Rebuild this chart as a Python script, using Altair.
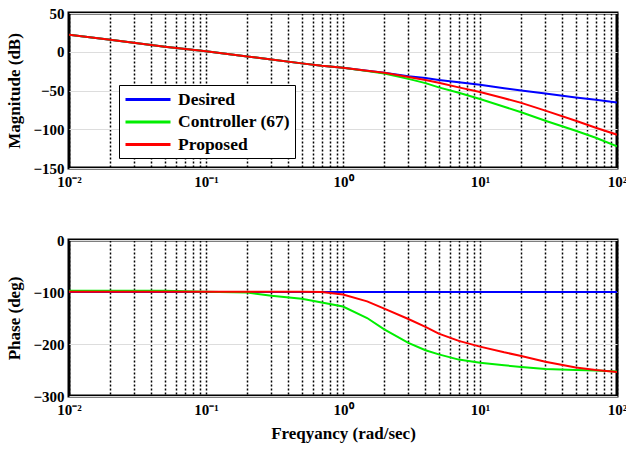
import altair as alt
import pandas as pd

freq = [0.01, 0.02, 0.05, 0.1, 0.2, 0.3, 0.5, 0.7, 1, 1.5, 2, 3, 4, 5, 7, 10, 15, 20, 30, 50, 70, 100]

mag_desired = [22, 15.5, 6.5, 0.5, -6, -10, -15, -18, -20.5, -24.5, -27, -31.5, -34, -36.5, -39.5, -42.5, -47, -50, -54, -59, -62, -65.5]
mag_controller = [22, 15.5, 6.5, 0.5, -6, -10, -15, -18, -20.5, -25, -28, -35, -40.5, -46, -53, -61, -71, -78, -89, -102, -111, -122]
mag_proposed = [22, 15.5, 6.5, 0.5, -6, -10, -15, -18, -20.5, -24.5, -27, -32.5, -36.5, -40, -46, -52, -60, -66, -76, -89, -98, -107]

ph_desired = [-100] * 22
ph_controller = [-97.5, -97.5, -97.5, -99.5, -101, -107, -113, -120, -128, -150, -172, -198, -212, -220, -230, -236, -241, -244, -248, -250, -251, -253]
ph_proposed = [-99.5, -99.5, -99.5, -99.5, -99.5, -99.5, -99.5, -100, -105, -118, -132, -152, -167, -180, -194, -205, -216, -223, -234, -245, -250, -254]

series = ["Desired", "Controller (67)", "Proposed"]
colors = ["#0000ff", "#00ee00", "#ff0000"]

grid_vals = [m * 10 ** e for e in range(-2, 2) for m in range(1, 10)] + [100]

rows = []
for name, mags, phs in zip(series, [mag_desired, mag_controller, mag_proposed],
                           [ph_desired, ph_controller, ph_proposed]):
    for f, m, p in zip(freq, mags, phs):
        rows.append({"freq": f, "mag": m, "phase": p, "series": name})
df = pd.DataFrame(rows)

FONT = "Liberation Serif"
label_expr = ("datum.value == 0.01 ? '10⁻²' : datum.value == 0.1 ? '10⁻¹' : "
              "datum.value == 1 ? '10⁰' : datum.value == 10 ? '10¹' : "
              "datum.value == 100 ? '10²' : ''")

W = 548


def xaxis(title):
    return alt.X("freq:Q",
                 scale=alt.Scale(type="log", domain=[0.01, 100], nice=False),
                 axis=alt.Axis(values=grid_vals, labelExpr=label_expr, title=title,
                               grid=True, gridColor="black", gridDash=[2, 2],
                               gridWidth=1.5, gridOpacity=1, labelOverlap=False,
                               ticks=False, domain=False, labelPadding=6,
                               labelFlush=False, titlePadding=8))


color = alt.Color("series:N", scale=alt.Scale(domain=series, range=colors),
                  legend=alt.Legend(title=None, orient="none", legendX=50, legendY=72,
                                    strokeColor="black", fillColor="white",
                                    padding=5, symbolType="M-1,0H4.625",
                                    symbolStrokeWidth=3, symbolSize=256,
                                    labelOffset=35,
                                    labelFont=FONT, labelFontWeight="bold",
                                    labelFontSize=17.5, rowPadding=4.5))


def panel(field, title, ydomain, yvals, xtitle, h, legend=True):
    layers = []
    for s in series:
        c = color if legend else alt.Color("series:N", scale=alt.Scale(domain=series, range=colors), legend=None)
        layers.append(
            alt.Chart(df).transform_filter(alt.datum.series == s)
            .mark_line(strokeWidth=2, clip=True)
            .encode(x=xaxis(xtitle),
                    y=alt.Y(f"{field}:Q", scale=alt.Scale(domain=ydomain, nice=False),
                            axis=alt.Axis(values=yvals, title=title, grid=True,
                                          gridColor="#dddddd", gridWidth=1,
                                          ticks=False, domain=False,
                                          labelPadding=5, titlePadding=9)),
                    color=c)
        )
    return alt.layer(*layers).properties(width=W, height=h)


top = panel("mag", "Magnitude (dB)", [-150, 50], [-150, -100, -50, 0, 50], None, 155)
bottom = panel("phase", "Phase (deg)", [-300, 0], [-300, -200, -100, 0],
               "Freqyancy (rad/sec)", 156, legend=False)

chart = alt.vconcat(top, bottom, spacing=40).properties(
    padding={"left": 4, "top": 4, "right": -3, "bottom": 0}
).configure_view(stroke="black", strokeWidth=3).configure_axis(
    labelFont=FONT, labelFontWeight="bold", labelFontSize=15, labelColor="black",
    titleFont=FONT, titleFontWeight="bold", titleFontSize=17, titleColor="black"
)

chart.save("out.html", embed_options={"renderer": "svg", "actions": False})
